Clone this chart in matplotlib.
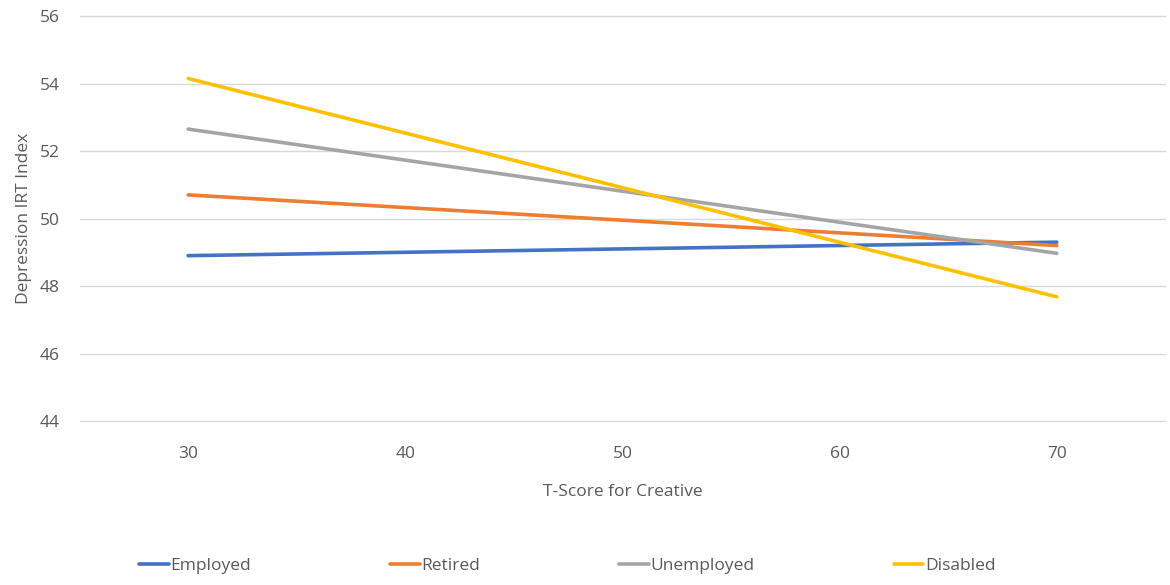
import matplotlib.pyplot as plt

plt.rcParams['font.family'] = ['Open Sans', 'DejaVu Sans']

# data
t_score = [30, 70]
employed = [48.9, 49.3]
retired = [50.7, 49.2]
unemployed = [52.65, 48.97]
disabled = [54.15, 47.68]

series = [
    ("Employed", employed, "#4472C4"),
    ("Retired", retired, "#ED7D31"),
    ("Unemployed", unemployed, "#A5A5A5"),
    ("Disabled", disabled, "#FFC000"),
]

TXT = "#595959"
FS = 12.5

fig = plt.figure(figsize=(11.7, 5.85), dpi=100)
ax = fig.add_axes([0.068, 0.2803, 0.928, 0.6923])

for name, vals, col in series:
    ax.plot(t_score, vals, color=col, lw=2.6, label=name, solid_capstyle="round")

ax.set_xlim(25, 75)
ax.set_ylim(44, 56)
ax.set_xticks([30, 40, 50, 60, 70])
ax.set_yticks(range(44, 57, 2))
ax.grid(axis="y", color="#D9D9D9", lw=1)
for gl in ax.get_ygridlines():
    gl.set_clip_on(False)
ax.set_axisbelow(True)
for s in ax.spines.values():
    s.set_visible(False)
ax.tick_params(length=0, labelsize=FS, colors=TXT)
ax.tick_params(axis="x", pad=18)
ax.tick_params(axis="y", pad=14)

ax.set_xlabel("T-Score for Creative", fontsize=FS, color=TXT, labelpad=16)
ax.set_ylabel("Depression IRT Index", fontsize=FS, color=TXT, labelpad=6)

fig.legend(loc="center", bbox_to_anchor=(0.485, 0.032), ncol=4, frameon=False,
           fontsize=FS, labelcolor=TXT, handlelength=1.7, handletextpad=0.1,
           columnspacing=8.0)

fig.savefig("out.png", dpi=100)
